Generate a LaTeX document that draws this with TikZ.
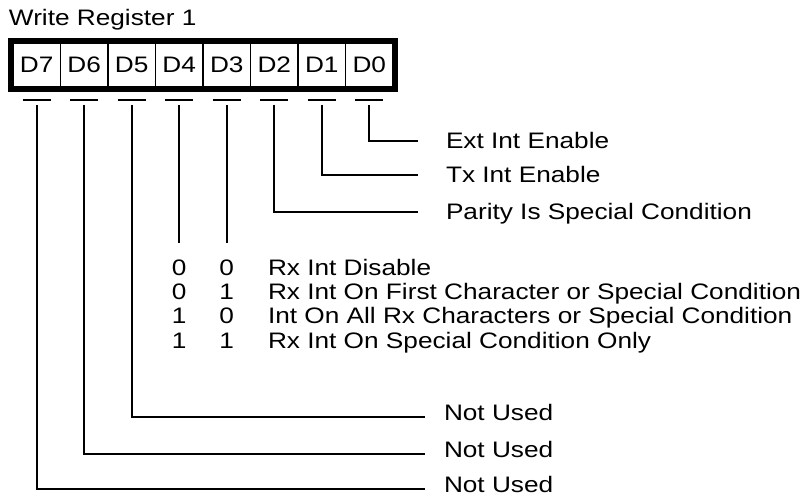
\documentclass[tikz,border=0pt]{standalone}
\usepackage{fontspec}
\setmainfont{Liberation Sans}[FakeStretch=1.17]
\usetikzlibrary{positioning}

\tikzset{
  cell/.style={draw, line width=0.8pt, minimum width=23.75pt, minimum height=22pt, inner sep=0pt},
  txt/.style={inner sep=0pt, text height=1.38ex, text depth=0pt},
  bitlbl/.style={txt, anchor=west, inner xsep=13.5pt},
  unused/.style={txt, anchor=west, inner xsep=9pt}
}

\begin{document}
\begin{tikzpicture}[x=0.5pt, y=-0.5pt, line width=1pt, font=\fontsize{11.2}{13}\selectfont]
    \useasboundingbox (0,0) rectangle (810,500);
    \node[txt, anchor=west] (title) at (8,18) {Write Register 1};
    \foreach \b in {7,...,0}
      \node[cell] (d\b) at ({36.75+47.5*(7-\b)},65) {D\b};
    \draw[line width=2.5pt] (10.5,40.5) rectangle (395.5,89.5);
    \foreach \b in {7,...,0} {
      \draw ([shift={(-14,12.5)}]d\b.south) -- ([shift={(14,12.5)}]d\b.south);
      \coordinate (t\b) at ([shift={(0,17)}]d\b.south);
    }
    \node[bitlbl] (ext) at (418,141) {Ext Int Enable};
    \node[bitlbl] (tx) at (418,175) {Tx Int Enable};
    \node[bitlbl] (parity) at (418,212) {Parity Is Special Condition};
    \draw (t0) |- (ext.west);
    \draw (t1) |- (tx.west);
    \draw (t2) |- (parity.west);
    \foreach \p/\q/\t [count=\i] in {0/0/Rx Int Disable,
        0/1/Rx Int On First Character or Special Condition,
        1/0/Int On All Rx Characters or Special Condition,
        1/1/Rx Int On Special Condition Only} {
      \node[txt, anchor=west] (row\i) at (267,{268+24.3*(\i-1)}) {\t};
      \node[txt] (row\i a) at (t4 |- row\i) {\p};
      \node[txt] (row\i b) at (t3 |- row\i) {\q};
    }
    \draw (t4) -- ([yshift=8.5pt]row1a.north);
    \draw (t3) -- ([yshift=8.5pt]row1b.north);
    \node[unused] (nu5) at (425,413) {Not Used};
    \node[unused] (nu6) at (425,450) {Not Used};
    \node[unused] (nu7) at (425,485) {Not Used};
    \draw (t5) |- ([yshift=-2pt]nu5.west);
    \draw (t6) |- ([yshift=-2pt]nu6.west);
    \draw (t7) |- ([yshift=-2pt]nu7.west);
\end{tikzpicture}
\end{document}
